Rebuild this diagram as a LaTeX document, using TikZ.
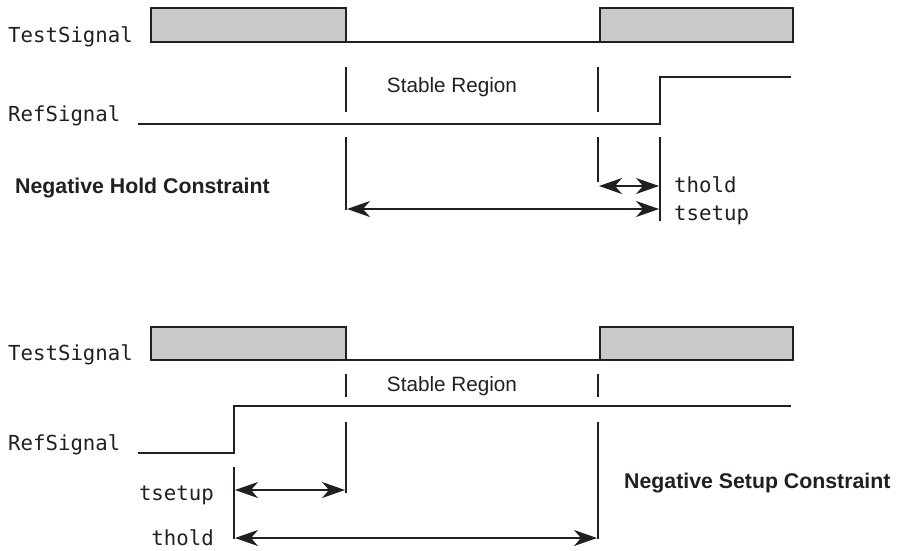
\documentclass[tikz,border=0pt]{standalone}
\usepackage{fontspec}
\setmainfont{Liberation Sans}
\setmonofont{DejaVu Sans Mono}
\usetikzlibrary{arrows.meta}
\definecolor{ink}{HTML}{231F20}
\definecolor{pulsegray}{HTML}{C8C9CB}
\begin{document}
\begin{tikzpicture}[x=1pt,y=-1pt,
  sig/.style={line width=2pt, draw=ink, line join=miter},
  pulse/.style={line width=2pt, draw=ink, fill=pulsegray},
  marker/.style={line width=1.4pt, draw=ink},
  tip/.tip={Stealth[length=23pt,width=16pt,inset=7pt]},
  dimarrow/.style={line width=1.5pt, draw=ink, tip-tip},
  monolbl/.style={font=\ttfamily\fontsize{20.7}{24}\selectfont, inner sep=0pt, text=ink},
  sanslbl/.style={font=\fontsize{20.7}{24}\selectfont, inner sep=0pt, text=ink},
  boldlbl/.style={font=\bfseries\fontsize{21.3}{24}\selectfont, inner sep=0pt, text=ink}
]
\useasboundingbox (0,0) rectangle (901,550);

% ================= Top: Negative Hold Constraint =================
\node[monolbl, anchor=base west] (ts1) at (8,42) {TestSignal};
\node[monolbl, anchor=base west] (rs1) at (8,121) {RefSignal};
\draw[pulse] (151,8) rectangle (346,42);
\draw[sig] (346,42) -- (600,42);
\draw[pulse] (600,8) rectangle (793,42);
\draw[sig] (138,124) -- (660,124) -- (660,77) -- (791,77);

\node[sanslbl, anchor=base] (sr1) at (452,92) {Stable Region};

\draw[marker] (346,67) -- (346,112);
\draw[marker] (346,137) -- (346,210);
\draw[marker] (598,67) -- (598,112);
\draw[marker] (598,137) -- (598,182);
\draw[marker] (660,137) -- (660,221);

\coordinate (h1a) at (599,186);
\coordinate (h1b) at (659,186);
\coordinate (s1a) at (347,209);
\coordinate (s1b) at (659,209);
\draw[dimarrow] (h1a) -- (h1b);
\draw[dimarrow] (s1a) -- (s1b);

\node[monolbl, anchor=base west] (th1) at (674,192) {thold};
\node[monolbl, anchor=base west] (tsu1) at (674,220) {tsetup};
\node[boldlbl, anchor=base west] (nh) at (15,193) {Negative Hold Constraint};

% ================= Bottom: Negative Setup Constraint =================
\node[monolbl, anchor=base west] (ts2) at (8,360) {TestSignal};
\node[monolbl, anchor=base west] (rs2) at (8,450) {RefSignal};
\draw[pulse] (151,327) rectangle (346,360);
\draw[sig] (346,360) -- (600,360);
\draw[pulse] (600,327) rectangle (793,360);
\draw[sig] (138,453) -- (234,453) -- (234,406) -- (791,406);

\node[sanslbl, anchor=base] (sr2) at (452,391) {Stable Region};

\draw[marker] (346,374) -- (346,397);
\draw[marker] (346,422) -- (346,493);
\draw[marker] (598,374) -- (598,397);
\draw[marker] (598,422) -- (598,539);
\draw[marker] (234,467) -- (234,539);

\coordinate (s2a) at (235,490);
\coordinate (s2b) at (345,490);
\coordinate (h2a) at (235,538);
\coordinate (h2b) at (597,538);
\draw[dimarrow] (s2a) -- (s2b);
\draw[dimarrow] (h2a) -- (h2b);

\node[monolbl, anchor=base east] (tsu2) at (214,500) {tsetup};
\node[monolbl, anchor=base east] (th2) at (214,545) {thold};
\node[boldlbl, anchor=base west] (ns) at (624,488) {Negative Setup Constraint};
\end{tikzpicture}
\end{document}
